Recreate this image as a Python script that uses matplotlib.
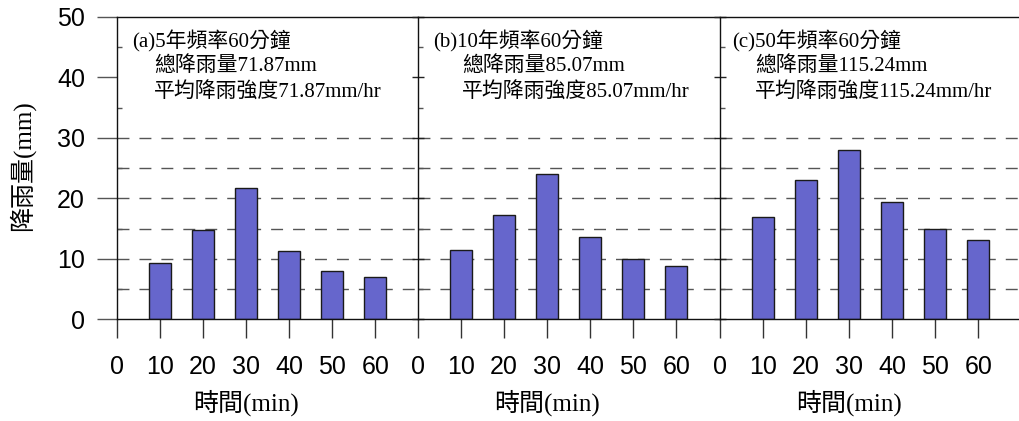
import matplotlib
matplotlib.use("Agg")
import matplotlib.pyplot as plt
from matplotlib.ticker import MultipleLocator

# ----- data -----
minutes = [10, 20, 30, 40, 50, 60]
rain_5yr = [9.26, 14.70, 21.65, 11.30, 7.93, 7.03]
rain_10yr = [11.40, 17.24, 24.07, 13.66, 9.92, 8.78]
rain_50yr = [16.86, 22.97, 27.93, 19.44, 14.88, 13.16]
panel_titles = ["(a)5年頻率60分鐘", "(b)10年頻率60分鐘", "(c)50年頻率60分鐘"]
totals = ["71.87", "85.07", "115.24"]
grid_levels = [5, 10, 15, 20, 25, 30]
xtick_vals = [0, 10, 20, 30, 40, 50, 60]

series = [rain_5yr, rain_10yr, rain_50yr]

# ----- style -----
serif = ["Liberation Serif", "Noto Sans CJK TC"]
plt.rcParams["font.family"] = ["Liberation Sans", "Noto Sans CJK TC"]
bar_color = "#6666CC"
W, H = 1020, 421

fig = plt.figure(figsize=(W / 100, H / 100), dpi=100)

# panel left edges in pixels, x axis 0 at each
lefts = [117, 418, 720]
title_x = [3.5, 3.5, 2.8]
line_x = [8.6, 10.2, 8.1]

for i, vals in enumerate(series):
    ax = fig.add_axes([lefts[i] / W, 1 - 319.3 / H, 301.5 / W, 302.5 / H])
    ax.set_xlim(0, 70)
    ax.set_ylim(0, 50)

    for g in grid_levels:
        ax.axhline(g, color="#555555", lw=1.0, dashes=(8.6, 7.2), zorder=1)

    ax.bar(minutes, vals, width=5.1, color=bar_color, edgecolor="#1a1a1a",
           linewidth=1.0, zorder=2)

    ax.spines["right"].set_visible(False)
    for s in ["left", "top", "bottom"]:
        ax.spines[s].set_color("#111111")
        ax.spines[s].set_linewidth(1.0)

    ax.set_xticks(xtick_vals)
    ax.set_xticklabels([str(v) for v in xtick_vals])
    ax.tick_params(axis="x", direction="out", length=14, width=1,
                   color="#333333", pad=12, labelsize=18)

    ax.yaxis.set_major_locator(MultipleLocator(10))
    ax.yaxis.set_minor_locator(MultipleLocator(5))
    if i == 0:
        ax.tick_params(axis="y", which="major", direction="out", length=14.4,
                       width=1, color="#555555", pad=8.6, labelsize=18)
    else:
        ax.tick_params(axis="y", which="major", direction="inout", length=8,
                       width=1, color="#222222", labelleft=False)
    ax.tick_params(axis="y", which="minor", direction="in", length=3.5,
                   width=1, color="#555555")

    ax.text(title_x[i], 45.9, panel_titles[i], family=serif, fontsize=15,
            va="center", ha="left")
    ax.text(line_x[i], 41.8, "總降雨量" + totals[i] + "mm", family=serif,
            fontsize=15, va="center", ha="left")
    ax.text(line_x[i], 37.5, "平均降雨強度" + totals[i] + "mm/hr", family=serif,
            fontsize=15, va="center", ha="left")

    ax.text(30, -0.277, "時間(min)", transform=ax.get_xaxis_transform(),
            family=serif, fontsize=18, va="center", ha="center")

fig.text(22 / W, 1 - 166 / H, "降雨量(mm)", family=serif, fontsize=18,
         rotation=90, va="center", ha="center")

fig.savefig("out.png", dpi=100)
